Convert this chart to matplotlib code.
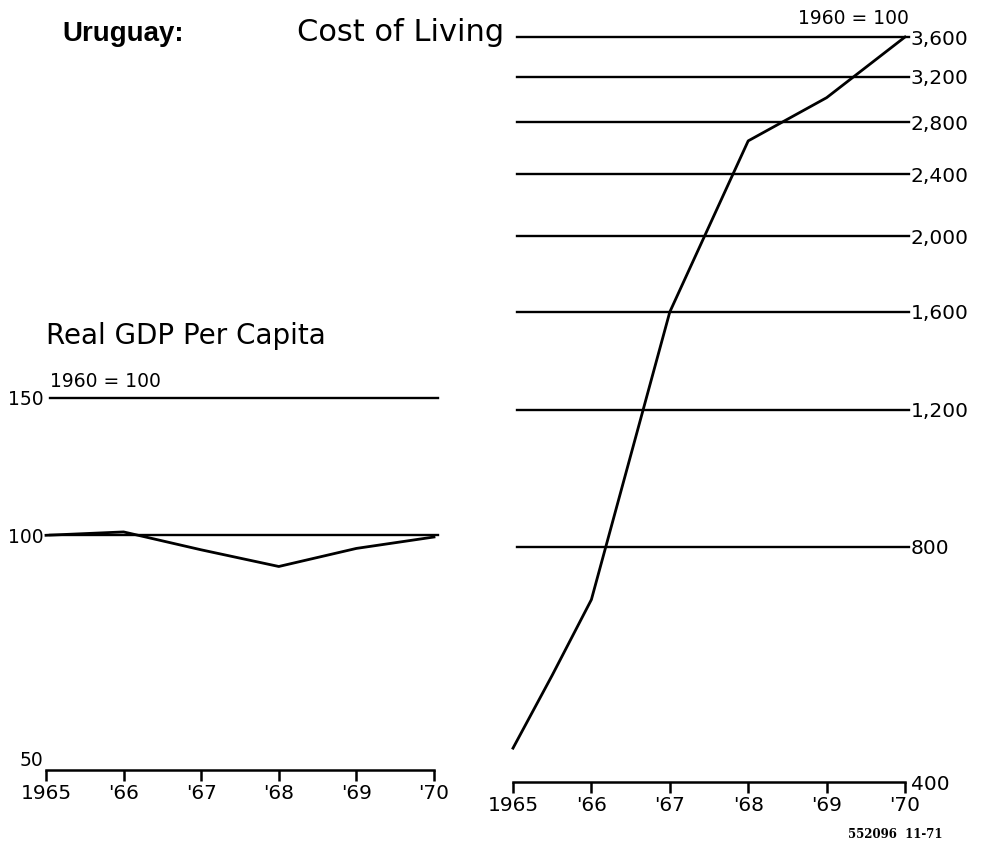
import matplotlib
matplotlib.use("Agg")
import matplotlib.pyplot as plt
from matplotlib.ticker import NullLocator

# values (1960 = 100)
years = [1965, 1966, 1967, 1968, 1969, 1970]
year_labels = ["1965", "'66", "'67", "'68", "'69", "'70"]

gdp = [100, 101, 95.8, 91.2, 96.2, 99.5]
gdp_ticks = [50, 100, 150]
gdp_tick_labels = ["50", "100", "150"]

cost_years = [1965, 1965.5, 1966, 1967, 1968, 1969, 1970]
cost = [442, 548, 685, 1600, 2650, 3010, 3600]
cost_ticks = [400, 800, 1200, 1600, 2000, 2400, 2800, 3200, 3600]
cost_tick_labels = ["400", "800", "1,200", "1,600", "2,000", "2,400",
                    "2,800", "3,200", "3,600"]

W, H = 992, 842
fig = plt.figure(figsize=(W / 100, H / 100), dpi=100)

ax1 = fig.add_axes([46 / W, 1 - 770 / H, 388 / W, (770 - 398) / H])
ax2 = fig.add_axes([513 / W, 1 - 782 / H, 392 / W, (782 - 37) / H])


def style_axis(ax, ticks, labels, ymin, ymax, ysize):
    ax.set_yscale("log")
    ax.set_ylim(ymin, ymax)
    ax.set_xlim(years[0], years[-1])
    for s in ["top", "left", "right"]:
        ax.spines[s].set_visible(False)
    ax.spines["bottom"].set_linewidth(1.8)
    ax.set_xticks(years)
    ax.set_xticklabels(year_labels, fontsize=14.5)
    ax.tick_params(axis="x", direction="out", length=8, width=1.8, pad=2)
    ax.set_yticks(ticks)
    ax.set_yticklabels(labels, fontsize=ysize)
    ax.yaxis.set_minor_locator(NullLocator())
    ax.tick_params(axis="y", length=0)
    for v in ticks[1:]:
        ax.axhline(v, xmin=0.01, xmax=1.01, color="black", lw=1.7, clip_on=False)


# left panel: Real GDP per capita
style_axis(ax1, gdp_ticks, gdp_tick_labels, 50, 150, 13.5)
ax1.tick_params(axis="y", pad=2)
ax1.get_yticklabels()[0].set_verticalalignment("bottom")
ax1.plot(years, gdp, color="black", lw=2.0, clip_on=False)
ax1.text(0.01, 1.02, "1960 = 100", transform=ax1.transAxes, fontsize=13.5,
         ha="left", va="bottom")
ax1.text(0.0, 1.13, "Real GDP Per Capita", transform=ax1.transAxes,
         fontsize=20, ha="left", va="bottom")

# right panel: cost of living
style_axis(ax2, cost_ticks, cost_tick_labels, 400, 3600, 14.5)
ax2.yaxis.tick_right()
ax2.tick_params(axis="y", length=0, pad=4)
ax2.plot(cost_years, cost, color="black", lw=2.0, clip_on=False)
ax2.text(1.01, 1.012, "1960 = 100", transform=ax2.transAxes, fontsize=13.5,
         ha="right", va="bottom")

fig.text(62 / W, 1 - 41 / H, "Uruguay:", fontsize=20, fontweight="bold",
         family="Liberation Sans", ha="left", va="baseline")
fig.text(297 / W, 1 - 41 / H, "Cost of Living", fontsize=22,
         ha="left", va="baseline")
fig.text(943 / W, 1 - 838 / H, "552096  11-71", fontsize=8.5,
         fontweight="bold", family="DejaVu Serif", ha="right", va="baseline")

fig.savefig("out.png", dpi=100)
